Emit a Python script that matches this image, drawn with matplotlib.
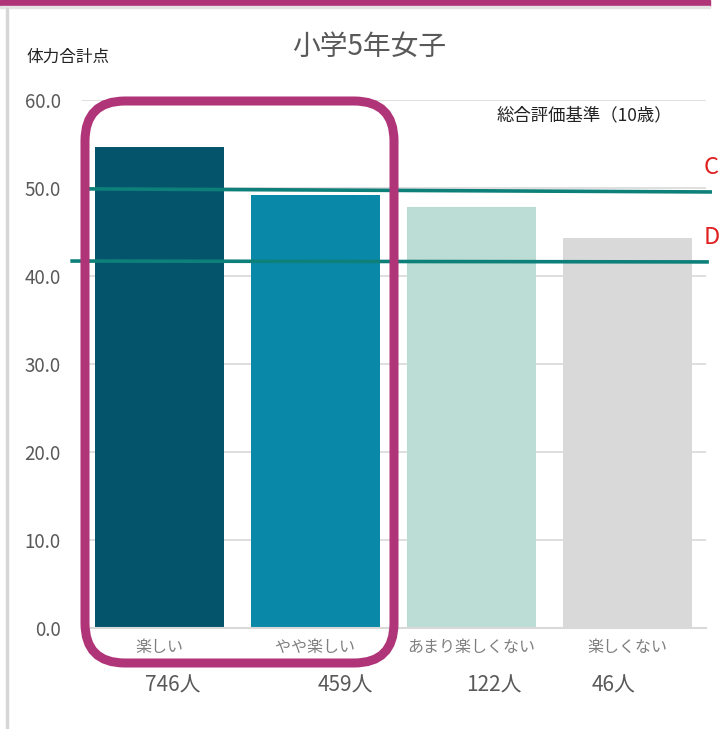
import numpy as np
import matplotlib; matplotlib.use("Agg")
import matplotlib.pyplot as plt
from matplotlib.patches import FancyBboxPatch, Rectangle

plt.rcParams['font.family'] = ['Noto Sans CJK JP', 'DejaVu Sans']

# data
categories = ["楽しい", "やや楽しい", "あまり楽しくない", "楽しくない"]
scores = [54.7, 49.2, 47.8, 44.3]
counts = ["746人", "459人", "122人", "46人"]
colors = ["#04546c", "#0a88a8", "#bcdcd6", "#d9d9d9"]
line_c = [49.9, 49.55]   # C line (left, right)
line_d = [41.7, 41.6]    # D line (left, right)
yticks = [0, 10, 20, 30, 40, 50, 60]

W, H = 721, 729
fig = plt.figure(figsize=(W/100, H/100), dpi=100)
fig.patch.set_facecolor("white")
px = lambda x, y: (x/W, 1-y/H)

ax = fig.add_axes([81.5/W, (H-628)/H, 624/W, 528/H])
x = np.arange(len(categories))
ax.bar(x, scores, width=0.83, color=colors, zorder=2)
ax.set_xlim(-0.5, 3.5); ax.set_ylim(0, 60)
ax.set_yticks(yticks)
ax.set_yticklabels([f"{v:.1f}" for v in yticks], fontsize=13.5, color="#595959")
ax.set_xticks(x)
ax.set_xticklabels(categories, fontsize=11.5, color="#7f7f7f")
ax.tick_params(length=0, axis="y", pad=15)
ax.tick_params(length=0, axis="x", pad=8)
ax.grid(axis="y", color="#d9d9d9", lw=1.2, zorder=0)
for s in ["top", "right", "left"]: ax.spines[s].set_visible(False)
ax.spines["bottom"].set_color("#d9d9d9"); ax.spines["bottom"].set_linewidth(1.5)

# reference lines C / D
ax.plot([-0.45, 3.53], line_c, color="#0e807a", lw=2.6, zorder=3, clip_on=False)
ax.plot([-0.56, 3.51], line_d, color="#0e807a", lw=2.6, zorder=3, clip_on=False)

# texts
fig.text(*px(369, 47), "小学5年女子", fontsize=20, color="#595959", ha="center", va="center")
fig.text(*px(26, 57), "体力合計点", fontsize=12, color="#222222", ha="left", va="center")
fig.text(*px(497, 115), "総合評価基準（10歳）", fontsize=12.5, color="#222222", ha="left", va="center")
fig.text(*px(704, 167), "C", fontsize=17, color="#e02020", ha="left", va="center")
fig.text(*px(704, 238), "D", fontsize=17, color="#e02020", ha="left", va="center")
for cx, t in zip([173, 345, 494, 614], counts):
    fig.text(*px(cx, 686), t, fontsize=15, color="#595959", ha="center", va="center")

# screenshot frame bits
fig.add_artist(Rectangle((0, H-6), 710, 6, transform=None, color="#b03478", zorder=5))
fig.add_artist(Rectangle((0, H-8), 710, 2, transform=None, color="#e4e4e4", zorder=5))
fig.add_artist(Rectangle((6, 0), 2, H-8, transform=None, color="#d6d6d6", zorder=5))

# highlight box
fig.add_artist(FancyBboxPatch((85, H-663), 309, 562, boxstyle="round,pad=0,rounding_size=40",
                              transform=None, fill=False, ec="#b03478", lw=6.5, zorder=6))

fig.savefig("out.png", dpi=100)
